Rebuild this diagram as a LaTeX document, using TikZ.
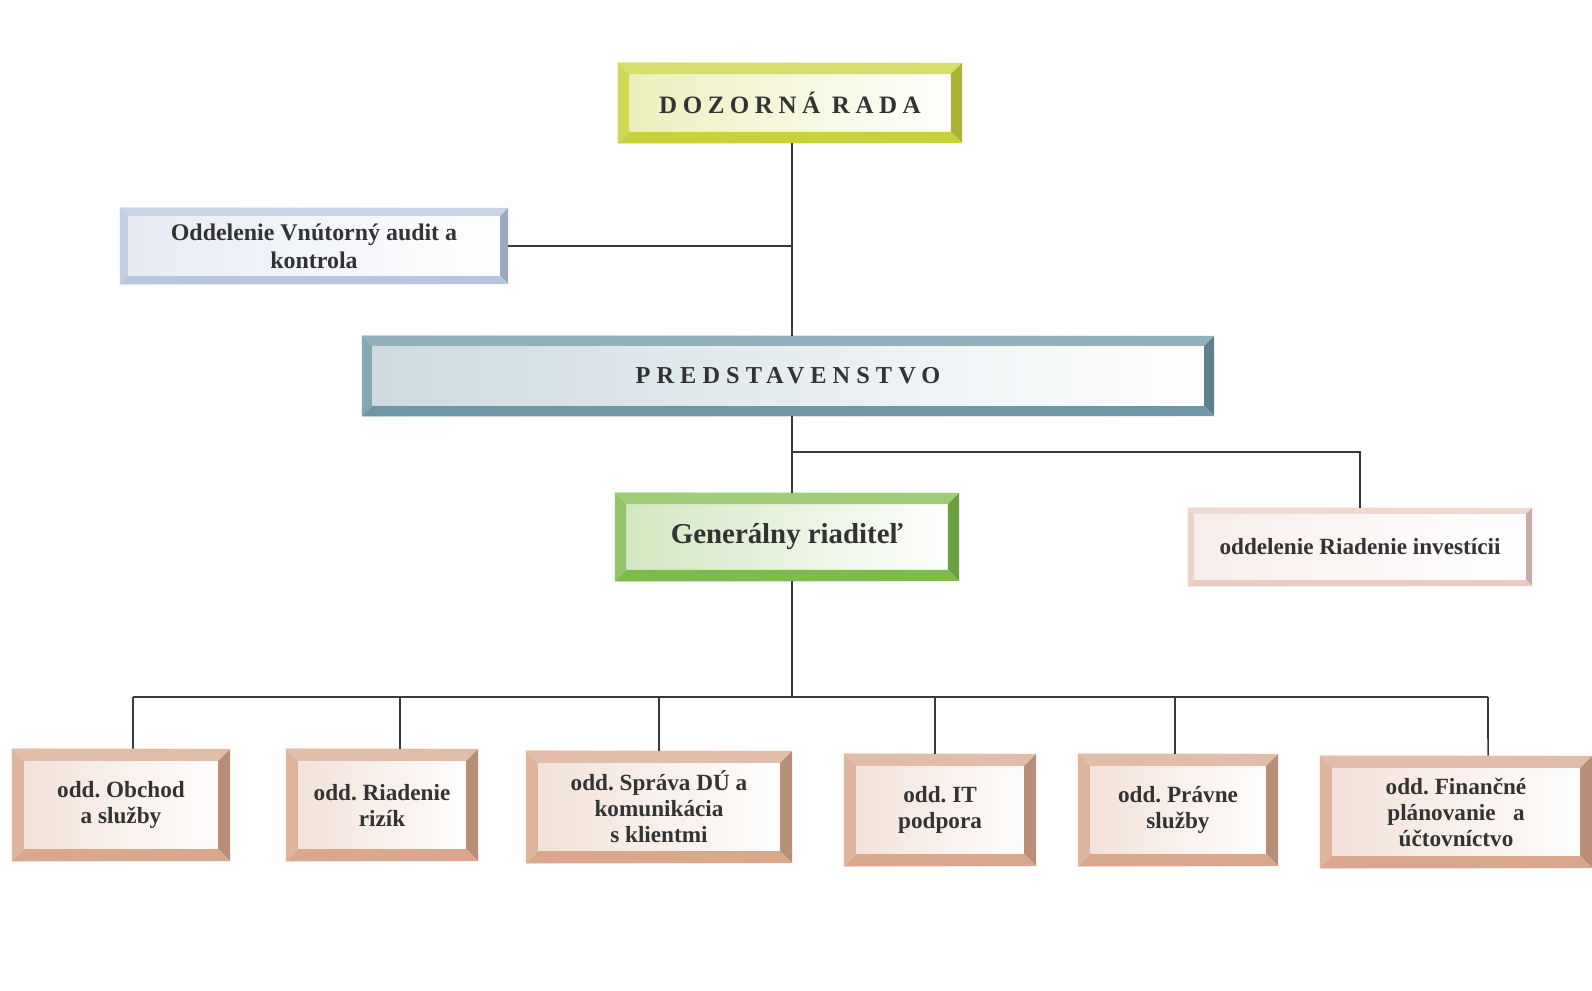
\documentclass[tikz,border=0pt]{standalone}
\usepackage{fontspec}
\setmainfont{Liberation Serif}
\frenchspacing
\definecolor{dozcol}{HTML}{C9D13A}
\definecolor{audcol}{HTML}{B7C6DE}
\definecolor{predcol}{HTML}{6F97A6}
\definecolor{gencol}{HTML}{7DBB4B}
\definecolor{invcol}{HTML}{E9CCC4}
\definecolor{oddcol}{HTML}{D9A78C}
\definecolor{linecol}{HTML}{3A3A3A}
\tikzset{
  bevel/.style 2 args={rectangle, inner sep=2pt, align=center, text=black!80,
    font=\bfseries, left color=#1!35, right color=white,
    path picture={
      \fill[#1!75!white] (path picture bounding box.north west) -- (path picture bounding box.north east)
        -- ([shift={(-#2,-#2)}]path picture bounding box.north east) -- ([shift={(#2,-#2)}]path picture bounding box.north west) -- cycle;
      \fill[#1!85!black] (path picture bounding box.north east) -- (path picture bounding box.south east)
        -- ([shift={(-#2,#2)}]path picture bounding box.south east) -- ([shift={(-#2,-#2)}]path picture bounding box.north east) -- cycle;
      \fill[#1] (path picture bounding box.south west) -- (path picture bounding box.south east)
        -- ([shift={(-#2,#2)}]path picture bounding box.south east) -- ([shift={(#2,#2)}]path picture bounding box.south west) -- cycle;
      \fill[#1!85!white] (path picture bounding box.north west) -- (path picture bounding box.south west)
        -- ([shift={(#2,#2)}]path picture bounding box.south west) -- ([shift={(#2,-#2)}]path picture bounding box.north west) -- cycle;
    }},
  link/.style={draw=linecol, line width=1.1pt}
}
\begin{document}
\begin{tikzpicture}[x=0.025cm, y=-0.025cm]
\useasboundingbox (0,0) rectangle (1592,991);
% vedenie
\node[bevel={dozcol}{0.28cm}, minimum width=8.6cm, minimum height=2cm, font=\bfseries\fontsize{17.8}{20}\selectfont\addfontfeatures{LetterSpace=22}] (doz) at (790,103) {DOZORNÁ RADA};
\node[bevel={audcol}{0.2cm}, minimum width=9.7cm, minimum height=1.9cm, font=\bfseries\fontsize{17}{20}\selectfont] (aud) at (314,246) {Oddelenie Vnútorný audit a\\kontrola};
\node[bevel={predcol}{0.25cm}, minimum width=21.3cm, minimum height=2cm, font=\bfseries\fontsize{17.3}{20}\selectfont\addfontfeatures{LetterSpace=25}] (pred) at (788,376) {PREDSTAVENSTVO};
\node[bevel={gencol}{0.28cm}, minimum width=8.6cm, minimum height=2.2cm, font=\bfseries\fontsize{20.5}{24}\selectfont] (gen) at (787,537) {Generálny riaditeľ};
\node[bevel={invcol}{0.15cm}, minimum width=8.6cm, minimum height=1.95cm, font=\bfseries\fontsize{16.5}{18}\selectfont] (inv) at (1360,547) {oddelenie Riadenie investícii};
% oddelenia
\tikzset{odd/.style={bevel={oddcol}{0.3cm}, minimum height=2.8cm, font=\bfseries\fontsize{16.5}{18.5}\selectfont}}
\node[odd, minimum width=5.45cm] (o1) at (121,805) {odd. Obchod\\a služby};
\node[odd, minimum width=4.8cm] (o2) at (382,805) {odd. Riadenie\\rizík};
\node[odd, minimum width=6.65cm] (o3) at (659,807) {odd. Správa DÚ a\\komunikácia\\s klientmi};
\node[odd, minimum width=4.8cm] (o4) at (940,810) {odd. IT\\podpora};
\node[odd, minimum width=5cm] (o5) at (1178,810) {odd. Právne\\služby};
\node[odd, minimum width=6.8cm] (o6) at (1456,812) {odd. Finančné\\plánovanie \ \ a\\účtovníctvo};
% spojnice
\coordinate (trunk) at ([xshift=0.05cm]doz.south);
\coordinate (brI) at (trunk |- 0,452);
\coordinate (busL) at (133,697);
\coordinate (busR) at (1488,697);
\draw[link] (trunk) -- (trunk |- pred.north);
\draw[link] (aud.east) -- (aud.east -| trunk);
\draw[link] (trunk |- pred.south) -- (trunk |- gen.north);
\draw[link] (brI) -| (inv.north);
\draw[link] (trunk |- gen.south) -- (trunk |- busL);
\draw[link] (busL) -- (busR);
\draw[link] ([xshift=0.3cm]o1.north) -- (busL);
\draw[link] ([xshift=0.45cm]o2.north) -- ([xshift=0.45cm]o2.north |- busL);
\draw[link] (o3.north) -- (o3.north |- busL);
\draw[link] ([xshift=-0.12cm]o4.north) -- ([xshift=-0.12cm]o4.north |- busL);
\draw[link] ([xshift=-0.08cm]o5.north) -- ([xshift=-0.08cm]o5.north |- busL);
\draw[link] ([xshift=0.8cm]o6.north) -- (busR);
\end{tikzpicture}
\end{document}
